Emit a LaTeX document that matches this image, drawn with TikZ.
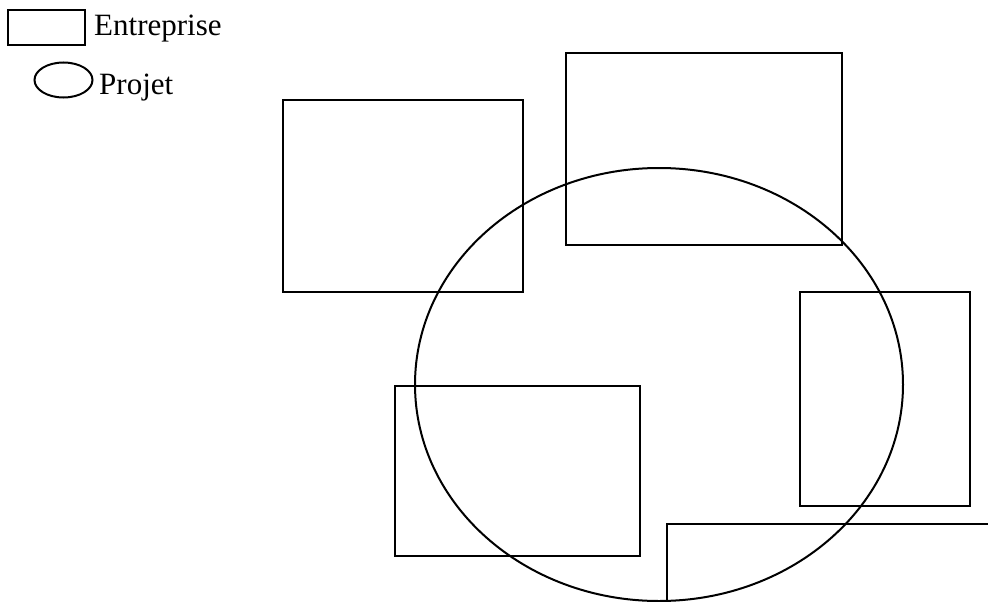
\documentclass[tikz,border=0pt]{standalone}
\usepackage{fontspec}
\setmainfont{Liberation Serif}
\usetikzlibrary{shapes.geometric}
\begin{document}
\begin{tikzpicture}[x=1pt,y=-1pt,
  ent/.style={draw,line width=2pt,rectangle,inner sep=0pt},
  proj/.style={draw,line width=2pt,ellipse,inner sep=0pt},
  lbl/.style={anchor=base west,inner sep=0pt,font=\fontsize{31}{36}\selectfont}]
\useasboundingbox (0,0) rectangle (988,602);
\clip (0,0) rectangle (988,602);
% legend
\node[ent,minimum width=77pt,minimum height=35pt] (legE) at (46,27.5) {};
\node[lbl] (tE) at (94,36) {Entreprise};
\node[proj,minimum width=58pt,minimum height=35pt] (legP) at (63.5,80) {};
\node[lbl] (tP) at (99,95) {Projet};
% enterprises
\node[ent,minimum width=240pt,minimum height=192pt] (e1) at (403,196) {};
\node[ent,minimum width=276pt,minimum height=192pt] (e2) at (704,149) {};
\node[ent,minimum width=170pt,minimum height=214pt] (e3) at (885,399) {};
\node[ent,minimum width=245pt,minimum height=170pt] (e4) at (517.5,471) {};
\node[ent,minimum width=400pt,minimum height=200pt] (e5) at (867,624) {};
% project
\node[proj,minimum width=488pt,minimum height=433pt] (p) at (659,384.5) {};
\end{tikzpicture}
\end{document}
